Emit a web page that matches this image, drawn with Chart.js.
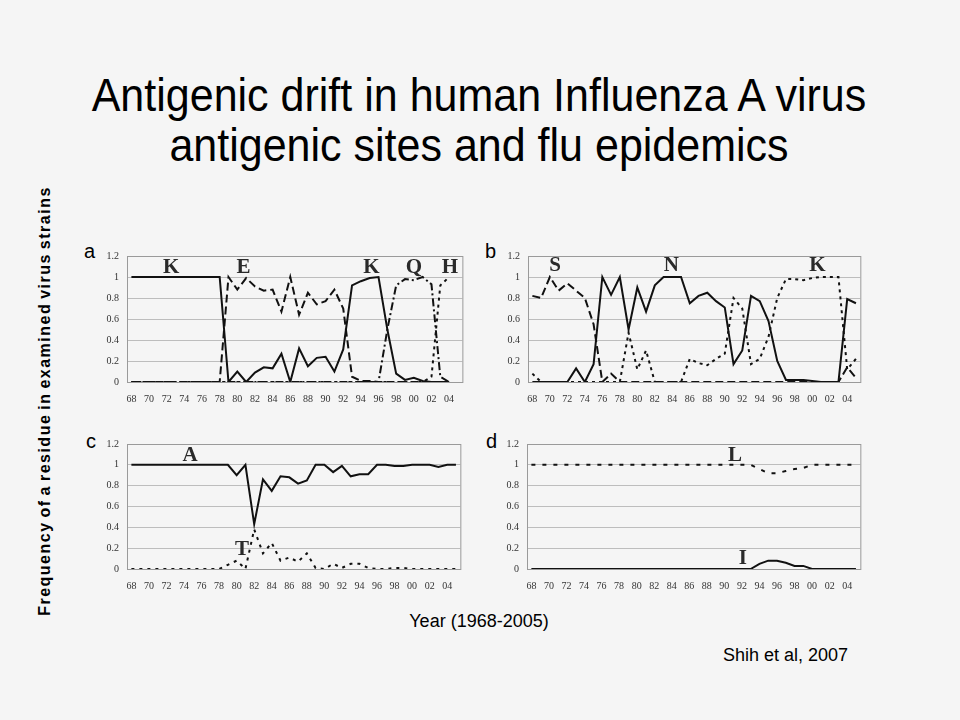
<!DOCTYPE html>
<html>
<head>
<meta charset="utf-8">
<script src="https://cdn.jsdelivr.net/npm/chart.js@4"></script>
<style>
  body { margin: 0; background: #f5f5f5; }
  #page { position: relative; width: 960px; height: 720px; overflow: hidden; font-family: "Liberation Sans", Arial, sans-serif; color: #000; }
  .title { position: absolute; left: 0; top: 70px; width: 958px; text-align: center; font-size: 46px; line-height: 50px; transform: scaleX(0.935); transform-origin: 479px 0; }
  .box { position: absolute; }
  .panel { position: absolute; font-size: 20px; line-height: 20px; }
  .ytitle { position: absolute; left: -175px; top: 392px; width: 440px; height: 18px; line-height: 18px; text-align: center; font-weight: bold; font-size: 16px; letter-spacing: 1.5px; word-spacing: -2px; transform: rotate(-90deg); }
  .note { position: absolute; font-size: 18px; line-height: 20px; }
</style>
</head>
<body>
<div id="page">
  <div class="title">Antigenic drift in human Influenza A virus<br>antigenic sites and flu epidemics</div>
  <div class="ytitle">Frequency of a residue in examined virus strains</div>
  <div class="panel" style="left:84px;top:241px">a</div>
  <div class="panel" style="left:485px;top:241px">b</div>
  <div class="panel" style="left:86px;top:431px">c</div>
  <div class="panel" style="left:486px;top:431px">d</div>
  <div class="box" style="left:87px;top:242px;width:382px;height:164px"><canvas id="ca" width="382" height="164"></canvas></div>
  <div class="box" style="left:488px;top:242px;width:379px;height:164px"><canvas id="cb" width="379" height="164"></canvas></div>
  <div class="box" style="left:87px;top:430px;width:380px;height:163px"><canvas id="cc" width="380" height="163"></canvas></div>
  <div class="box" style="left:487px;top:430px;width:380px;height:163px"><canvas id="cd" width="380" height="163"></canvas></div>
  <div class="note" style="left:0;width:958px;text-align:center;top:611px">Year (1968-2005)</div>
  <div class="note" style="left:723px;top:645px">Shih et al, 2007</div>
</div>
<script>
// years 1968-2005, labels shown every other year
const years = ['68','69','70','71','72','73','74','75','76','77','78','79','80','81','82','83','84','85','86','87',
  '88','89','90','91','92','93','94','95','96','97','98','99','00','01','02','03','04','05'];
const yTicks = ['0', '0.2', '0.4', '0.6', '0.8', '1', '1.2'];

// panel a
const aK = [1,1,1,1,1,1,1,1,1,1,1,0,0.1,0,0.09,0.14,0.13,0.27,0,0.32,0.15,0.23,0.24,0.1,0.31,0.92,0.96,0.99,1,0.5,0.08,0.02,0.04,0.01,0,0,0,null];
const aE = [0,0,0,0,0,0,0,0,0,0,0,1,0.88,0.99,0.91,0.87,0.88,0.67,1,0.64,0.85,0.74,0.77,0.88,0.7,0.05,0.01,0.01,0,0,0,0,0,0,0,0,0,null];
const aQ = [0,0,0,0,0,0,0,0,0,0,0,0,0,0,0,0,0,0,0,0,0,0,0,0,0,0,0,0,0,0.5,0.92,0.98,0.97,1,0.93,0.05,0,null];
const aH = [0,0,0,0,0,0,0,0,0,0,0,0,0,0,0,0,0,0,0,0,0,0,0,0,0,0,0,0,0,0,0,0,0,0,0.05,0.92,1,null];

// panel b
const bN = [0,0,0,0,0,0.13,0,0.17,1,0.83,1,0.5,0.9,0.67,0.92,1,1,1,0.75,0.82,0.85,0.77,0.71,0.17,0.3,0.82,0.77,0.58,0.2,0.02,0.02,0.02,0.01,0,0,0,0.79,0.75];
const bS = [0.82,0.8,1,0.87,0.94,0.87,0.8,0.55,0,0.08,0,0,0,0,0,0,0,0,0,0,0,0,0,0,0,0,0,0,0,0,0,0,0,0,0,0,0.14,0.04];
const bK = [0.08,0,0,0,0,0,0,0,0,0,0,0.47,0.12,0.3,0,0,0,0,0.22,0.18,0.16,0.22,0.27,0.8,0.7,0.17,0.22,0.43,0.8,0.98,0.98,0.97,0.99,1,1,1,0.12,0.22];

// panel c
const cA = [1,1,1,1,1,1,1,1,1,1,1,1,0.9,1,0.43,0.86,0.75,0.89,0.88,0.82,0.85,1,1,0.93,0.99,0.89,0.91,0.91,1,1,0.99,0.99,1,1,1,0.98,1,1];
const cT = [0,0,0,0,0,0,0,0,0,0,0,0.04,0.08,0,0.38,0.15,0.25,0.08,0.11,0.07,0.15,0.01,0,0.05,0.01,0.05,0.05,0.01,0,0,0.01,0.01,0,0,0,0,0,0];

// panel d
const dL = [1,1,1,1,1,1,1,1,1,1,1,1,1,1,1,1,1,1,1,1,1,1,1,1,1,1,0.96,0.92,0.92,0.94,0.96,0.97,1,1,1,1,1,1];
const dI = [0,0,0,0,0,0,0,0,0,0,0,0,0,0,0,0,0,0,0,0,0,0,0,0,0,0,0.05,0.08,0.08,0.06,0.03,0.03,0,0,0,0,0,0];

const solid = [];
const dashed = [8, 4];
const dashDot = [8, 3, 2, 3];
const dotted = [3, 4];
const sparse = [4, 7];

function line(data, dash) {
  return { data: data, borderColor: '#111', borderWidth: 2, borderDash: dash, pointRadius: 0, tension: 0, fill: false, spanGaps: false };
}

// frame round the plot area + residue letters
const framePlugin = {
  id: 'frame',
  afterDraw(chart, args, opts) {
    const c = chart.ctx, a = chart.chartArea;
    c.save();
    c.strokeStyle = '#9a9a9a';
    c.lineWidth = 1;
    c.strokeRect(a.left + 0.5, a.top + 0.5, a.right - a.left, a.bottom - a.top);
    c.fillStyle = '#2a2a2a';
    c.font = 'bold 21px "Liberation Serif", "Times New Roman", serif';
    c.textAlign = 'center';
    c.textBaseline = 'middle';
    (opts.letters || []).forEach(l => {
      c.fillText(l[0], chart.scales.x.getPixelForValue(l[1]), chart.scales.y.getPixelForValue(l[2]));
    });
    c.restore();
  }
};

function makeChart(id, sets, letters) {
  return new Chart(document.getElementById(id), {
    type: 'line',
    data: { labels: years, datasets: sets },
    options: {
      responsive: false,
      animation: false,
      layout: { padding: { top: 8, right: 4, left: 0, bottom: 0 } },
      plugins: { legend: { display: false }, tooltip: { enabled: false }, frame: { letters: letters } },
      scales: {
        x: {
          offset: true,
          grid: { display: false, drawTicks: false },
          border: { display: false },
          afterFit: s => { s.height = 24; },
          ticks: {
            autoSkip: false, maxRotation: 0, padding: 11, color: '#333',
            font: { family: '"Liberation Serif", "Times New Roman", serif', size: 10 },
            callback: (v, i) => (i % 2 === 0 ? years[i] : '')
          }
        },
        y: {
          min: 0, max: 1.2,
          grid: { color: '#bdbdbd', lineWidth: 1, drawTicks: false },
          border: { display: false },
          afterFit: s => { s.width = 40; },
          ticks: {
            stepSize: 0.2, padding: 8, color: '#333',
            font: { family: '"Liberation Serif", "Times New Roman", serif', size: 10 },
            callback: (v, i) => yTicks[i]
          }
        }
      }
    },
    plugins: [framePlugin]
  });
}

makeChart('ca', [line(aK, solid), line(aE, dashed), line(aQ, dashDot), line(aH, dotted)],
  [['K', 4.5, 1.09], ['E', 12.7, 1.09], ['K', 27.2, 1.09], ['Q', 32, 1.09], ['H', 36.1, 1.09]]);
makeChart('cb', [line(bN, solid), line(bS, dashed), line(bK, dotted)],
  [['S', 2.6, 1.11], ['N', 15.9, 1.11], ['K', 32.6, 1.11]]);
makeChart('cc', [line(cA, solid), line(cT, [3, 5])],
  [['A', 6.7, 1.085], ['T', 12.6, 0.19]]);
makeChart('cd', [line(dL, sparse), line(dI, solid)],
  [['L', 23.2, 1.085], ['I', 24.1, 0.1]]);
</script>
</body>
</html>
